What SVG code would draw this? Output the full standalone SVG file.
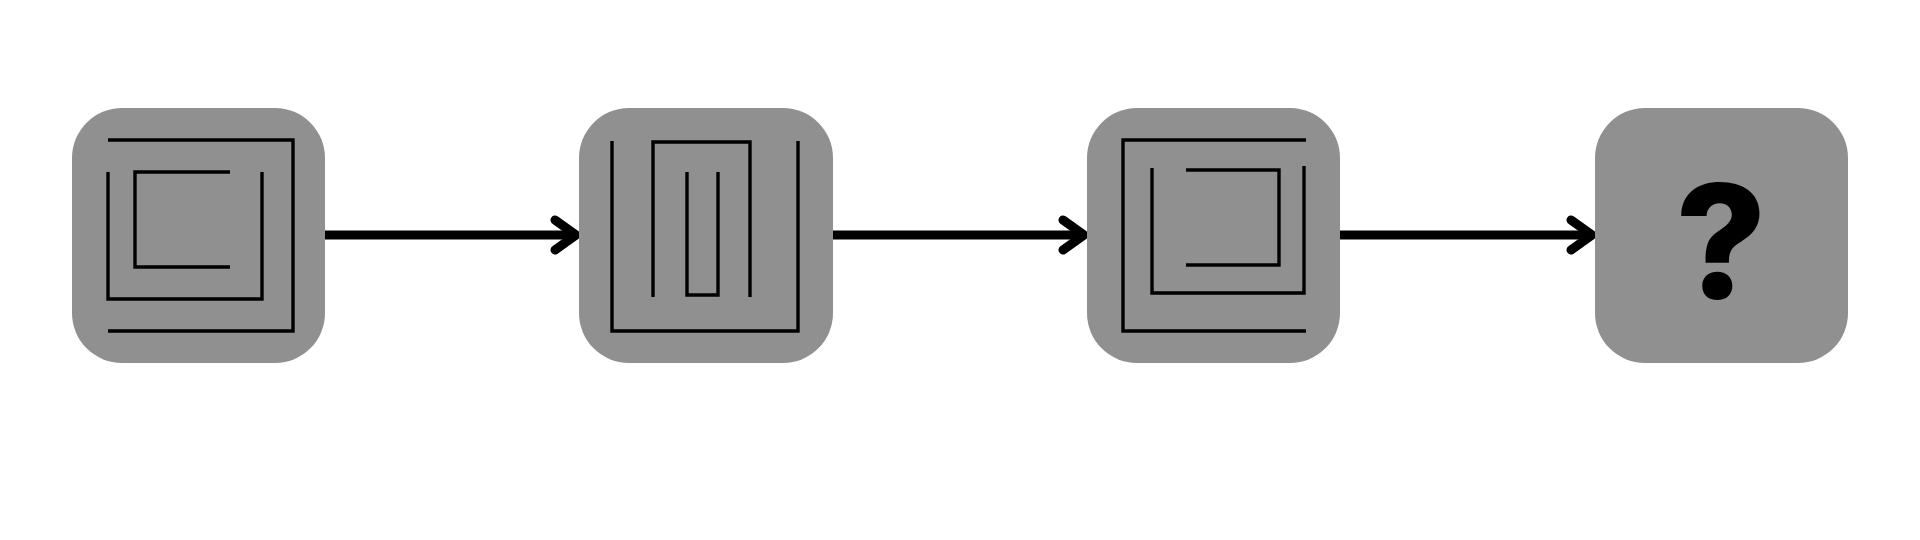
<svg xmlns="http://www.w3.org/2000/svg" width="1920" height="540" viewBox="0 0 1920 540">
<style>
.box{fill:#909090}
.maze{fill:none;stroke:#000;stroke-width:3.4;stroke-linecap:butt;stroke-linejoin:miter}
.conn{fill:none;stroke:#000;stroke-width:9}
.head{fill:none;stroke:#000;stroke-width:9;stroke-linecap:round;stroke-linejoin:round}
.q{font-family:Inter,"Liberation Sans",sans-serif;font-weight:800;font-size:158px;fill:#000}
</style>
<rect width="1920" height="540" fill="#fff"/>
<g id="connectors">
<line class="conn" x1="325" y1="235" x2="574" y2="235"/>
<polyline class="head" points="555,220 576,235 555,250"/>
<line class="conn" x1="833" y1="235" x2="1082" y2="235"/>
<polyline class="head" points="1063,220 1084,235 1063,250"/>
<line class="conn" x1="1340" y1="235" x2="1590" y2="235"/>
<polyline class="head" points="1571,220 1592,235 1571,250"/>
</g>
<g id="node1">
<rect class="box" x="72" y="108" width="253" height="255" rx="50"/>
<path class="maze" d="M108,140 H293 V331 H108"/>
<path class="maze" d="M108,172 V299 H262 V172"/>
<path class="maze" d="M230,172 H135 V267 H230"/>
</g>
<g id="node2">
<rect class="box" x="579" y="108" width="254" height="255" rx="50"/>
<path class="maze" d="M612,141 V331 H798 V141"/>
<path class="maze" d="M653,297 V142 H750 V297"/>
<path class="maze" d="M687,172 V295 H718 V172"/>
</g>
<g id="node3">
<rect class="box" x="1087" y="108" width="253" height="255" rx="50"/>
<path class="maze" d="M1306,140 H1123 V331 H1306"/>
<path class="maze" d="M1152,168 V293 H1304 V166"/>
<path class="maze" d="M1186,170 H1279 V265 H1186"/>
</g>
<g id="node4">
<rect class="box" x="1595" y="108" width="253" height="255" rx="50"/>
<text class="q" x="1721" y="298" text-anchor="middle">?</text>
</g>
</svg>
